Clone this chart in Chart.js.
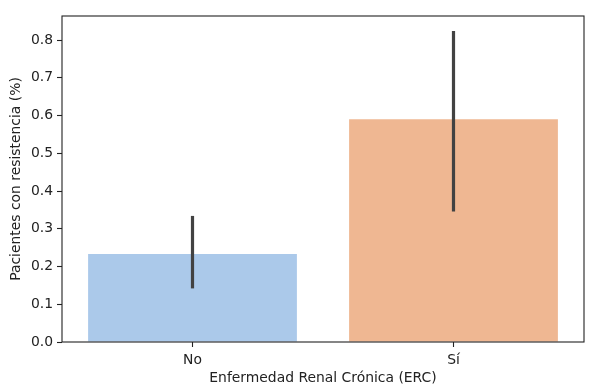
<!DOCTYPE html>
<html>
<head>
<meta charset="utf-8">
<script src="https://cdn.jsdelivr.net/npm/chart.js@4"></script>
<style>
  html, body { margin: 0; padding: 0; background: #fff; }
  #wrap { width: 600px; height: 392px; }
</style>
</head>
<body>
<div id="wrap"><canvas id="c" width="600" height="392"></canvas></div>
<script>
const categories = ["No", "Sí"];
const values = [0.233, 0.590];
const errLow = [0.142, 0.346];
const errHigh = [0.334, 0.824];
const yTicks = [0.0, 0.1, 0.2, 0.3, 0.4, 0.5, 0.6, 0.7, 0.8];
const barColors = ["#abc9ea", "#efb792"];
const xTitle = "Enfermedad Renal Crónica (ERC)";
const yTitle = "Pacientes con resistencia (%)";

const FONT = { family: "'DejaVu Sans', sans-serif", size: 13.9 };

const errorBars = {
  id: 'errorBars',
  afterDatasetsDraw(chart) {
    const ctx = chart.ctx;
    const x = chart.scales.x, y = chart.scales.y;
    ctx.save();
    ctx.strokeStyle = '#424242';
    ctx.lineWidth = 3.2;
    ctx.lineCap = 'butt';
    categories.forEach((c, i) => {
      const px = x.getPixelForValue(i);
      ctx.beginPath();
      ctx.moveTo(px, y.getPixelForValue(errLow[i]));
      ctx.lineTo(px, y.getPixelForValue(errHigh[i]));
      ctx.stroke();
    });
    ctx.restore();
  }
};

const frame = {
  id: 'frame',
  afterDraw(chart) {
    const a = chart.chartArea, ctx = chart.ctx;
    ctx.save();
    ctx.strokeStyle = '#222';
    ctx.lineWidth = 1.1;
    ctx.strokeRect(a.left, a.top, a.right - a.left, a.bottom - a.top);
    ctx.restore();
  }
};

new Chart(document.getElementById('c'), {
  type: 'bar',
  data: {
    labels: categories,
    datasets: [{
      data: values,
      backgroundColor: barColors,
      borderWidth: 0,
      barPercentage: 0.8,
      categoryPercentage: 1.0
    }]
  },
  options: {
    responsive: false,
    animation: false,
    devicePixelRatio: 1,
    layout: { padding: { top: 16, right: 16, left: 0, bottom: 0 } },
    plugins: { legend: { display: false }, tooltip: { enabled: false } },
    scales: {
      x: {
        type: 'category',
        offset: true,
        grid: { offset: false, drawOnChartArea: false, drawTicks: true, tickLength: 5, tickWidth: 1.1, tickColor: '#222' },
        border: { display: false },
        ticks: { color: '#222', font: FONT, padding: 5, maxRotation: 0 },
        title: { display: true, text: xTitle, color: '#222', font: FONT, padding: { top: 0, bottom: 5 } },
        afterFit(s) { s.height = 50; }
      },
      y: {
        min: 0,
        max: 0.8636,
        grid: { drawOnChartArea: false, drawTicks: true, tickLength: 5, tickWidth: 1.1, tickColor: '#222' },
        border: { display: false },
        afterBuildTicks(s) { s.ticks = yTicks.map(v => ({ value: v })); },
        ticks: { color: '#222', font: FONT, padding: 4, callback: v => Number(v).toFixed(1) },
        title: { display: true, text: yTitle, color: '#222', font: FONT, padding: { top: 8, bottom: 0 } },
        afterFit(s) { s.width = 62; }
      }
    }
  },
  plugins: [errorBars, frame]
});
</script>
</body>
</html>
